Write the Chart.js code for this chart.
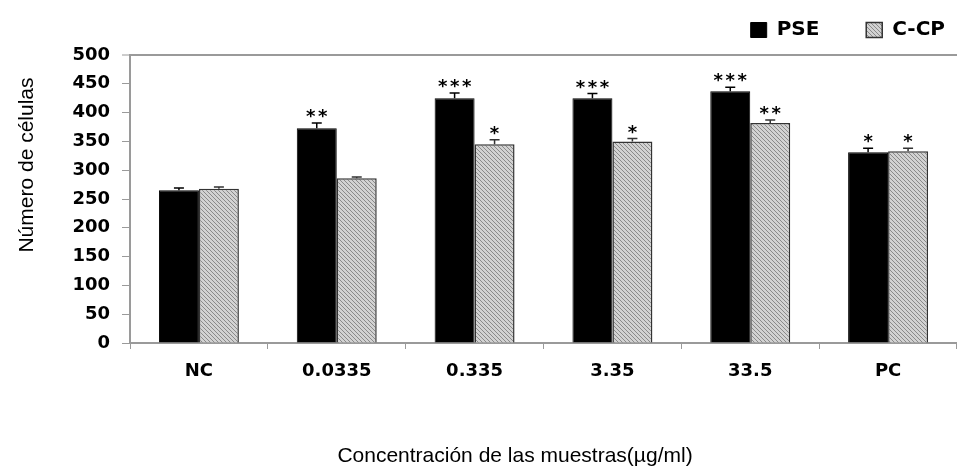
<!DOCTYPE html>
<html>
<head>
<meta charset="utf-8">
<script src="https://cdn.jsdelivr.net/npm/chart.js@4.4.1/dist/chart.umd.min.js"></script>
<style>
  html, body { margin: 0; padding: 0; background: #fff; }
  #wrap { width: 957px; height: 466px; }
</style>
</head>
<body>
<div id="wrap"><canvas id="cellChart"></canvas></div>
<script>
const categories = ["NC", "0.0335", "0.335", "3.35", "33.5", "PC"];
const pseValues = [265, 373, 425, 425, 437, 331];
const pseErrors = [4, 9, 9, 8, 7, 7];
const pseStars = ["", "**", "***", "***", "***", "*"];
const ccpValues = [268, 286, 345, 350, 382, 333];
const ccpErrors = [3, 2, 8, 5, 5, 5];
const ccpStars = ["", "", "*", "*", "**", "*"];
const yTitle = "Número de células";
const xTitle = "Concentración de las muestras(µg/ml)";

const axisGray = "#9a9a9a";
const tickFont = { family: "DejaVu Sans", weight: "bold", size: 18 };

// light gray fill with thin dark diagonals, like the C-CP bars
function makeHatch() {
  const c = document.createElement("canvas");
  c.width = 4;
  c.height = 4;
  const g = c.getContext("2d");
  g.fillStyle = "#d2d2d2";
  g.fillRect(0, 0, 4, 4);
  g.strokeStyle = "#8a8a8a";
  g.lineWidth = 1;
  g.beginPath();
  g.moveTo(-1, -1);
  g.lineTo(5, 5);
  g.moveTo(-1, 3);
  g.lineTo(1, 5);
  g.moveTo(3, -1);
  g.lineTo(5, 1);
  g.stroke();
  return g.createPattern(c, "repeat");
}

const errorBars = {
  id: "errorBars",
  afterDatasetsDraw(chart) {
    const { ctx } = chart;
    const y = chart.scales.y;
    ctx.save();
    chart.data.datasets.forEach((ds, i) => {
      const meta = chart.getDatasetMeta(i);
      const errs = i === 0 ? pseErrors : ccpErrors;
      const stars = i === 0 ? pseStars : ccpStars;
      meta.data.forEach((bar, j) => {
        const top = y.getPixelForValue(ds.data[j] + errs[j]);
        ctx.strokeStyle = i === 0 ? "#000" : "#333";
        ctx.lineWidth = 1.5;
        ctx.beginPath();
        ctx.moveTo(bar.x, bar.y);
        ctx.lineTo(bar.x, top);
        ctx.moveTo(bar.x - 5, top);
        ctx.lineTo(bar.x + 5, top);
        ctx.stroke();

        const n = stars[j].length;
        ctx.fillStyle = "#000";
        ctx.font = 'bold 18px "DejaVu Sans"';
        ctx.textAlign = "center";
        ctx.textBaseline = "alphabetic";
        for (let k = 0; k < n; k++) {
          ctx.fillText("*", bar.x + (k - (n - 1) / 2) * 12, top - 1);
        }
      });
    });
    ctx.restore();
  },
};

const axisTitles = {
  id: "axisTitles",
  afterDraw(chart) {
    const { ctx } = chart;
    ctx.save();
    ctx.fillStyle = "#000";
    ctx.font = '21px "Liberation Sans", Arial';
    ctx.textAlign = "center";
    ctx.textBaseline = "alphabetic";
    ctx.fillText(xTitle, 515, 462);
    ctx.translate(33, 165);
    ctx.rotate(-Math.PI / 2);
    ctx.fillText(yTitle, 0, 0);
    ctx.restore();
  },
};

const ctx = document.getElementById("cellChart").getContext("2d");
const hatch = makeHatch();

new Chart(ctx, {
  type: "bar",
  data: {
    labels: categories,
    datasets: [
      {
        label: "PSE",
        data: pseValues,
        backgroundColor: "#000",
        borderColor: "#000",
        borderWidth: 1,
        categoryPercentage: 0.58,
        barPercentage: 1,
      },
      {
        label: "C-CP",
        data: ccpValues,
        backgroundColor: hatch,
        borderColor: "#333",
        borderWidth: 1.5,
        categoryPercentage: 0.58,
        barPercentage: 1,
      },
    ],
  },
  options: {
    responsive: true,
    maintainAspectRatio: false,
    animation: false,
    layout: { padding: { top: 8, left: 0, right: 0, bottom: 0 } },
    plugins: {
      tooltip: { enabled: false },
      legend: {
        position: "top",
        align: "end",
        labels: {
          boxWidth: 16,
          boxHeight: 15,
          padding: 12,
          color: "#000",
          font: { family: "DejaVu Sans", weight: "bold", size: 20 },
          generateLabels: (chart) => {
            const items = Chart.defaults.plugins.legend.labels.generateLabels(chart);
            items[0].text = items[0].text + "     ";
            return items;
          },
        },
      },
    },
    scales: {
      x: {
        ticks: { color: "#000", font: tickFont, padding: 12 },
        grid: {
          drawOnChartArea: false,
          offset: true,
          tickColor: axisGray,
          tickLength: 6,
        },
        border: { color: axisGray, width: 2 },
        afterFit: (scale) => {
          scale.height = 123;
        },
      },
      // empty strip between the legend and the plot
      xTop: {
        type: "category",
        position: "top",
        ticks: { display: false },
        grid: { display: false },
        border: { display: false },
        afterFit: (scale) => {
          scale.height = 5;
        },
      },
      y: {
        min: 0,
        max: 500,
        ticks: { stepSize: 50, color: "#000", font: tickFont, padding: 12 },
        grid: {
          color: (c) => (c.tick && c.tick.value === 500 ? axisGray : "rgba(0,0,0,0)"),
          lineWidth: (c) => (c.tick && c.tick.value === 500 ? 2 : 1),
          tickColor: axisGray,
          tickLength: 8,
          tickWidth: 1,
        },
        border: { color: axisGray, width: 2 },
        afterFit: (scale) => {
          scale.width = 130;
        },
      },
    },
  },
  plugins: [errorBars, axisTitles],
});
</script>
</body>
</html>
